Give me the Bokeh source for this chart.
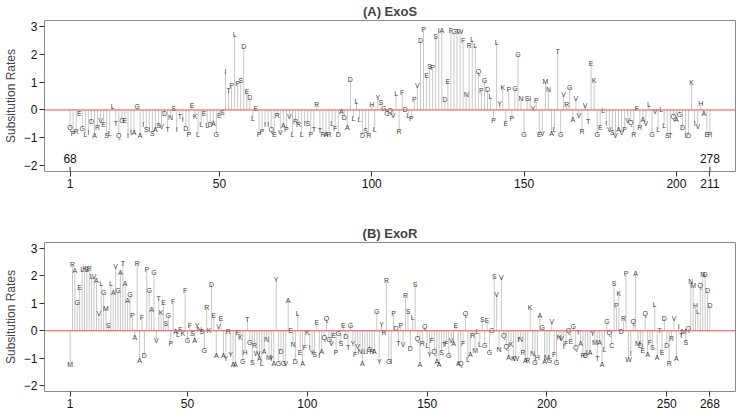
from bokeh.plotting import figure
from bokeh.models import FixedTicker, Span, ColumnDataSource
from bokeh.layouts import column
from bokeh.core.properties import value
from bokeh.embed import file_html
from bokeh.resources import INLINE

FONT = "Liberation Sans"

exos_aa = list("QPREGLIDAR" "VESLLTQGEI" "IAGAISISAS" "VDTNSITIDP" "EKLLELDAGE"
               "SITPLPSDED" "LEPPIIQERV" "APVLRRLISP" "TRTRARLFDA" "DADLLLDSRH"
               "LYSGGQVLRF" "DLPPVDPESP" "SIADEFGTWF" "NRLLQPGDLP" "LYKEPPGGNG"
               "SIYPEVMNAL" "TGVRGAVVRV" "TEKGELIVSV" "AVPVQRFRAV" "LGVLLLSTQA"
               "GDIDKIVHAE" "R")
exos_rate = [-0.64, -0.85, -0.78, -0.12, -0.67, -0.86, -0.79, -0.42, -0.91, -0.64,
             -0.37, -0.53, -0.91, -0.85, 0.12, -0.50, -0.90, -0.37, -0.37, -0.91,
             -0.81, -0.81, 0.14, -0.91, -0.52, -0.70, -0.70, -0.85, -0.70, -0.56,
             -0.58, -0.12, -0.70, -0.28, 0.06, -0.70, -0.22, -0.35, -0.66, -0.87,
             0.16, -0.23, -0.86, -0.53, -0.14, -0.56, -0.53, -0.49, -0.86, -0.21,
             -0.09, 1.37, 0.70, 0.88, 2.70, 0.95, 1.05, 2.26, 0.67, 0.43,
             -0.29, 0.06, -0.86, -0.77, -0.53, -0.53, -0.70, -0.88, -0.20, -0.81,
             -0.56, -0.70, -0.23, -0.87, -0.40, -0.53, -0.87, -0.47, -0.47, -0.87,
             -0.70, 0.20, -0.72, -0.88, -0.88, -0.88, -0.49, -0.66, -0.88, -0.07,
             -0.26, -0.62, 1.09, -0.29, 0.31, -0.33, -0.90, -0.74, -0.90, 0.20,
             -0.70, 0.43, 0.27, 0.06, -0.12, -0.02, -0.19, 0.58, -0.77, 0.62,
             0.02, -0.19, -0.31, 0.37, 0.86, 2.48, 2.87, 1.22, 1.55, 1.51,
             2.64, 2.83, 2.83, 0.37, 1.03, 2.83, 2.80, 2.80, 2.80, 2.50,
             0.55, 2.31, 2.52, 2.29, 1.37, 0.70, 1.05, 0.72, 0.47, -0.36,
             2.42, 0.22, 0.81, -0.50, 0.74, -0.30, 0.78, 2.00, 0.40, -0.86,
             0.40, 0.40, 0.07, 0.33, -0.88, -0.83, 1.02, 0.73, -0.83, -0.69,
             2.08, -0.86, 0.56, 0.20, 0.81, -0.35, 0.40, -0.21, -0.78, 0.16,
             -0.40, 1.67, 1.05, -0.86, -0.63, -0.03, -0.50, -0.70, -0.81, -0.91,
             -0.70, -0.79, -0.70, -0.38, -0.43, -0.88, 0.07, -0.64, -0.35, -0.50,
             0.20, -0.86, -0.06, -0.70, 0.01, -0.55, -0.91, -0.91, -0.23, -0.35,
             -0.15, -0.64, -0.91, -0.91, 0.99, -0.47, -0.60, 0.24, -0.14, -0.88,
             -0.88]
exos_xticks = [1, 50, 100, 150, 200, 211]
exos_marks = [1, 211]
exos_mark_labels = ["68", "278"]

exor_aa = list("MRAGELKSRL" "VAVLGMSLAV" "GATAAGPARA" "FDPGAGVTKE" "SGPFALFKFG"
               "FSAYNSGRKD" "EAVEAYRYAA" "EKGHTGSRWA" "LANMYAYGDG" "VAENDLEAFK"
               "IYSEIAQQGV" "EPGSEDTGYF" "VNALISRAGY" "YRRGIPDTPV" "RSDLSQARQL"
               "YFQAASTFGV" "AEAQFQLARM" "LLSGEGGSVN" "VQQAKKWINR" "ARKNGHAGAM"
               "GVFGNVIFQE" "GQTARGLAYM" "TAALGQCSPK" "DRPWIQAMDE" "QAFSLATEDD"
               "RRVAITMSQN" "MHLQNDDD")
exor_rate = [-1.21, 2.42, 2.17, 1.02, 1.57, 2.22, 2.27, 2.22, 2.24, 1.97,
             1.97, 1.81, 0.61, 1.70, 1.37, 0.82, 0.18, 1.70, 1.37, 2.33,
             1.46, 2.13, 2.45, 1.70, 1.08, 1.31, 0.55, -0.23, 2.45, -1.07,
             0.49, -0.90, 2.21, 1.45, 0.78, 2.11, -0.35, 1.16, 0.67, 1.02,
             0.26, 0.56, -0.47, 1.05, -0.02, -0.12, 0.06, -0.09, 1.46, -0.35,
             0.20, -0.09, -0.35, 0.20, 0.05, -0.04, -0.70, 0.84, 0.02, 1.69,
             0.55, -0.91, 0.14, 0.43, -0.91, -1.00, -0.04, -0.86, -1.21, -1.21,
             -0.06, -0.25, -1.12, -0.77, 0.41, -0.43, -1.15, -0.53, -0.82, -1.00,
             -1.17, -0.76, -0.33, -0.97, -1.00, -1.17, 1.86, -1.17, -0.74, -1.17,
             -1.17, 1.08, 0.02, -0.48, -1.11, 0.63, -0.80, -1.17, -0.59, -0.05,
             -0.59, -0.80, -0.85, 0.29, -0.91, -0.76, -0.23, 0.46, -0.33, -0.47,
             -0.18, -0.80, -0.11, -0.47, 0.18, -0.19, -0.62, 0.20, -0.47, -0.85,
             -0.56, -0.74, -1.17, -0.76, -0.76, -0.66, -0.74, -0.74, 0.69, -1.11,
             0.22, -0.07, 1.84, -1.11, -1.11, 0.63, 0.08, -0.47, 0.20, -0.48,
             1.29, 0.69, -0.64, 0.50, 1.69, -0.27, -1.21, -0.47, 0.16, -0.54,
             -0.85, -0.36, -0.76, -1.11, -1.21, -0.80, -0.50, -0.47, -0.89, -0.36,
             -0.47, 0.18, -1.17, -1.17, -0.47, 0.63, -1.03, -0.85, -0.18, -0.70,
             -0.04, -0.50, 0.41, -0.54, 0.36, -0.80, 0.02, 1.98, 1.33, -0.66,
             1.93, -0.18, -0.56, -0.97, -0.50, -0.99, -0.99, -0.30, -0.30, -0.77,
             -1.07, -1.07, 0.84, -0.82, -1.15, -0.97, 0.57, 0.13, -1.11, -0.95,
             -1.09, 0.34, -0.85, -1.14, -0.25, -0.27, -0.56, -0.47, 0.01, -0.39,
             0.14, -0.62, -0.06, -0.47, -0.91, -0.91, -0.80, -0.80, -0.09, -0.41,
             -1.00, -0.41, -1.21, -0.68, 0.32, -0.06, -0.53, 1.72, 0.90, 1.35,
             -0.01, 0.43, 2.07, -1.03, -0.82, 0.35, 2.07, -0.45, -0.53, -0.70,
             0.61, -0.85, -0.41, -0.60, 0.94, -0.97, 0.01, -0.80, 0.46, -0.53,
             -1.17, -0.27, 0.46, -1.00, 0.14, -0.18, -0.01, -0.42, 0.08, 1.78,
             1.63, 0.90, 0.70, 1.64, 2.05, 2.05, 1.46, 0.92]
exor_xticks = [1, 50, 100, 150, 200, 250, 268]

y_ticks = [-2, -1, 0, 1, 2, 3]
y_labels = {-2: "\u22122", -1: "\u22121", 0: "0", 1: "1", 2: "2", 3: "3"}


def make_panel(title, aa, rates, xticks, height, top, bottom, marks=None, mark_labels=None):
    n = min(len(aa), len(rates))
    pos = list(range(1, n + 1))
    pad = 0.04 * (n - 1)
    p = figure(width=736, height=height, output_backend="svg", toolbar_location=None,
               x_range=(1 - pad, n + pad), y_range=(-2.2, 3.2),
               min_border_left=35, min_border_right=1, min_border_top=top,
               min_border_bottom=bottom)
    p.title.text = title
    p.title.align = "center"
    p.title.text_font = FONT
    p.title.text_font_size = "13px"
    p.title.text_font_style = "bold"
    p.title.standoff = 3
    p.grid.visible = False
    p.outline_line_color = "#8a8a8a"
    p.outline_line_width = 1
    p.background_fill_color = "white"
    p.border_fill_color = "white"
    for ax in (p.xaxis[0], p.yaxis[0]):
        ax.axis_line_color = None
        ax.major_tick_line_color = "#333333"
        ax.minor_tick_line_color = None
        ax.major_tick_in = 0
        ax.major_tick_out = 5
        ax.major_label_text_font = FONT
        ax.major_label_text_font_size = "12px"
        ax.major_label_text_color = "#111111"
        ax.major_label_standoff = 2
    p.xaxis.ticker = FixedTicker(ticks=xticks)
    p.yaxis.ticker = FixedTicker(ticks=y_ticks)
    p.yaxis.major_label_overrides = y_labels
    p.yaxis.axis_label = "Subsitution Rates"
    p.yaxis.axis_label_text_font = FONT
    p.yaxis.axis_label_text_font_size = "12px"
    p.yaxis.axis_label_text_font_style = "normal"
    p.yaxis.axis_label_standoff = 3

    src = ColumnDataSource(dict(x=pos, y=rates[:n], zero=[0] * n, aa=aa[:n]))
    p.segment(x0="x", y0="zero", x1="x", y1="y", source=src,
              line_color="#c8c8c8", line_width=1)
    p.add_layout(Span(location=0, dimension="width", line_color="#e8504a",
                      line_width=1, level="overlay"))
    p.text(x="x", y="y", text="aa", source=src, text_align="center",
           text_baseline="middle", text_font_size=value("7px"),
           text_color=value("#2a2a2a"), text_alpha=0.92, text_font=value(FONT))
    if marks:
        msrc = ColumnDataSource(dict(x=marks, y0=[-2.2] * len(marks), y1=[-2.03] * len(marks),
                                     ty=[-1.74] * len(marks), t=mark_labels))
        p.segment(x0="x", y0="y0", x1="x", y1="y1", source=msrc, line_color="#333333")
        p.text(x="x", y="ty", text="t", source=msrc, text_align="center",
               text_baseline="middle", text_font_size=value("12px"),
               text_color=value("#111111"), text_font=value(FONT))
    return p


pa = make_panel("(A) ExoS", exos_aa, exos_rate, exos_xticks, 200, 18, 29,
                exos_marks, exos_mark_labels)
pb = make_panel("(B) ExoR", exor_aa, exor_rate, exor_xticks, 212, 42, 21)

layout = column(pa, pb, spacing=0)
open("out.html", "w").write(file_html(layout, INLINE))
